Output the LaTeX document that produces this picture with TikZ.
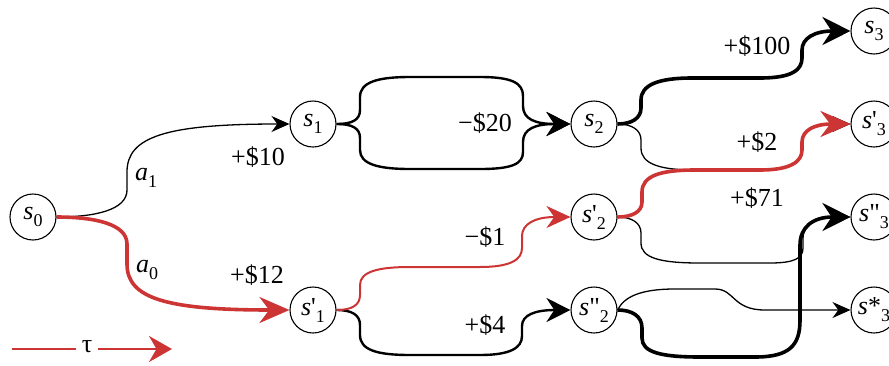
\documentclass[tikz,border=0pt]{standalone}
\usepackage{fontspec}
\setmainfont{Liberation Serif}
\newfontfamily\qfont{Liberation Serif}
\usetikzlibrary{arrows.meta}
\definecolor{tred}{RGB}{205,52,52}
\newcommand{\stt}[2]{\textit{s}{\qfont #1}\raisebox{-7pt}{\fontsize{18}{18}\selectfont #2}}
\newcommand{\act}[1]{\textit{a}\raisebox{-7pt}{\fontsize{18}{18}\selectfont #1}}
\tikzset{
  stnode/.style={circle,draw,line width=1.1pt,minimum size=46pt,inner sep=0pt,font=\fontsize{26}{30}\selectfont},
  lab/.style={inner sep=0pt,font=\fontsize{26}{30}\selectfont},
  thinE/.style={line width=1.3pt,-{Stealth[length=18pt,width=16pt]}},
  medE/.style={line width=2.4pt,-{Stealth[length=24pt,width=24pt]}},
  thickE/.style={line width=3.6pt,-{Stealth[length=28pt,width=28pt]}},
  redthick/.style={tred,line width=3.6pt,-{Stealth[length=30pt,width=26pt]}},
  redthin/.style={tred,line width=2pt,-{Stealth[length=24pt,width=22pt]}},
}
\begin{document}
\begin{tikzpicture}[x=1pt,y=-1pt]
\useasboundingbox (0,0) rectangle (889,365);
% states
\node[stnode] (s0) at (33,217) {\stt{}{0}};
\node[stnode] (s1) at (313,124) {\stt{}{1}};
\node[stnode] (s1p) at (313,310) {\stt{'}{1}};
\node[stnode] (s2) at (594,124) {\stt{}{2}};
\node[stnode] (s2p) at (594,217) {\stt{'}{2}};
\node[stnode] (s2pp) at (594,310) {\stt{"}{2}};
\node[stnode] (s3) at (874,31) {\stt{}{3}};
\node[stnode] (s3p) at (874,124) {\stt{'}{3}};
\node[stnode] (s3pp) at (874,217) {\stt{"}{3}};
\node[stnode] (s3s) at (874,310) {\stt{*}{3}};
% s0 -> s1
\draw[thinE] (s0.east) .. controls (95,217) and (127,210) .. (127,190) -- (127,172) .. controls (127,137) and (165,124) .. (s1.west);
% s1 -> s2 (two paths)
\draw[medE] (s1.east) .. controls (352,124) and (360,120) .. (360,110) -- (360,97) .. controls (360,82) and (378,77) .. (410,77) -- (480,77) .. controls (512,77) and (523,83) .. (523,96) -- (523,106) .. controls (523,119) and (535,124) .. (s2.west);
\draw[medE] (s1.east) .. controls (352,124) and (360,128) .. (360,138) -- (360,150) .. controls (360,164) and (378,169) .. (410,169) -- (480,169) .. controls (512,169) and (523,164) .. (523,152) -- (523,142) .. controls (523,129) and (535,124) .. (s2.west);
% s2 -> s3
\draw[thickE] (s2.east) .. controls (632,124) and (641,118) .. (641,108) -- (641,100) .. controls (641,85) and (658,78) .. (692,78) -- (760,78) .. controls (792,78) and (802,70) .. (802,58) -- (802,50) .. controls (802,38) and (815,31) .. (s3.west);
% s2 -> s'3
\draw[thinE] (s2.east) .. controls (632,124) and (641,130) .. (641,140) -- (641,148) .. controls (641,164) and (660,170) .. (695,170) -- (760,170) .. controls (790,170) and (802,162) .. (802,150) -- (802,142) .. controls (802,130) and (815,124) .. (s3p.west);
% s'1 -> s''2
\draw[medE] (s1p.east) .. controls (352,310) and (360,315) .. (360,325) -- (360,335) .. controls (360,350) and (377,355) .. (410,355) -- (480,355) .. controls (510,355) and (522,348) .. (522,336) -- (522,326) .. controls (522,315) and (535,310) .. (s2pp.west);
% s'2 -> s''3
\draw[thinE] (s2p.east) .. controls (632,217) and (641,223) .. (641,233) -- (641,243) .. controls (641,258) and (660,263) .. (700,263) -- (770,263) .. controls (795,263) and (803,258) .. (803,248) -- (803,238) .. controls (803,225) and (815,217) .. (s3pp.west);
% s''2 -> s*3
\draw[thinE] (s2pp.east) .. controls (624,297) and (640,289) .. (675,289) -- (715,289) .. controls (735,289) and (732,310) .. (765,310) -- (s3s.west);
% s''2 -> s''3
\draw[thickE] (s2pp.east) .. controls (632,310) and (642,316) .. (642,328) -- (642,338) .. controls (642,352) and (660,357) .. (700,357) -- (755,357) .. controls (790,357) and (800,345) .. (800,320) -- (800,245) .. controls (800,228) and (812,217) .. (s3pp.west);
% red path
\draw[redthick] (s0.east) .. controls (95,217) and (127,224) .. (127,244) -- (127,264) .. controls (127,298) and (165,310) .. (s1p.west);
\draw[redthin] (s1p.east) .. controls (352,310) and (360,305) .. (360,295) -- (360,285) .. controls (360,272) and (377,267) .. (410,267) -- (480,267) .. controls (510,267) and (522,260) .. (522,248) -- (522,236) .. controls (522,224) and (535,217) .. (s2p.west);
\draw[redthick] (s2p.east) .. controls (632,217) and (642,212) .. (642,202) -- (642,192) .. controls (642,176) and (660,170) .. (695,170) -- (760,170) .. controls (790,170) and (802,162) .. (802,150) -- (802,142) .. controls (802,130) and (815,124) .. (s3p.west);
% labels
\node[lab] (la1) at (146,178) {\act{1}};
\node[lab] (la0) at (147,270) {\act{0}};
\node[lab] (r10) at (258,157) {+\$10};
\node[lab] (r12) at (257,275) {+\$12};
\node[lab] (r20) at (485,123) {−\$20};
\node[lab] (r1) at (485,237) {−\$1};
\node[lab] (r4) at (485,325) {+\$4};
\node[lab] (r100) at (757,46) {+\$100};
\node[lab] (r2) at (757,142) {+\$2};
\node[lab] (r71) at (757,198) {+\$71};
% legend
\coordinate (lg0) at (12,349);
\coordinate (lg1) at (172,349);
\node[lab,inner xsep=6pt] (tau) at (87,347) {τ};
\draw[tred,line width=2pt] (lg0) -- (tau.west |- lg0);
\draw[tred,line width=2pt,-{Stealth[length=23pt,width=26pt]}] (tau.east |- lg1) -- (lg1);
\end{tikzpicture}
\end{document}
